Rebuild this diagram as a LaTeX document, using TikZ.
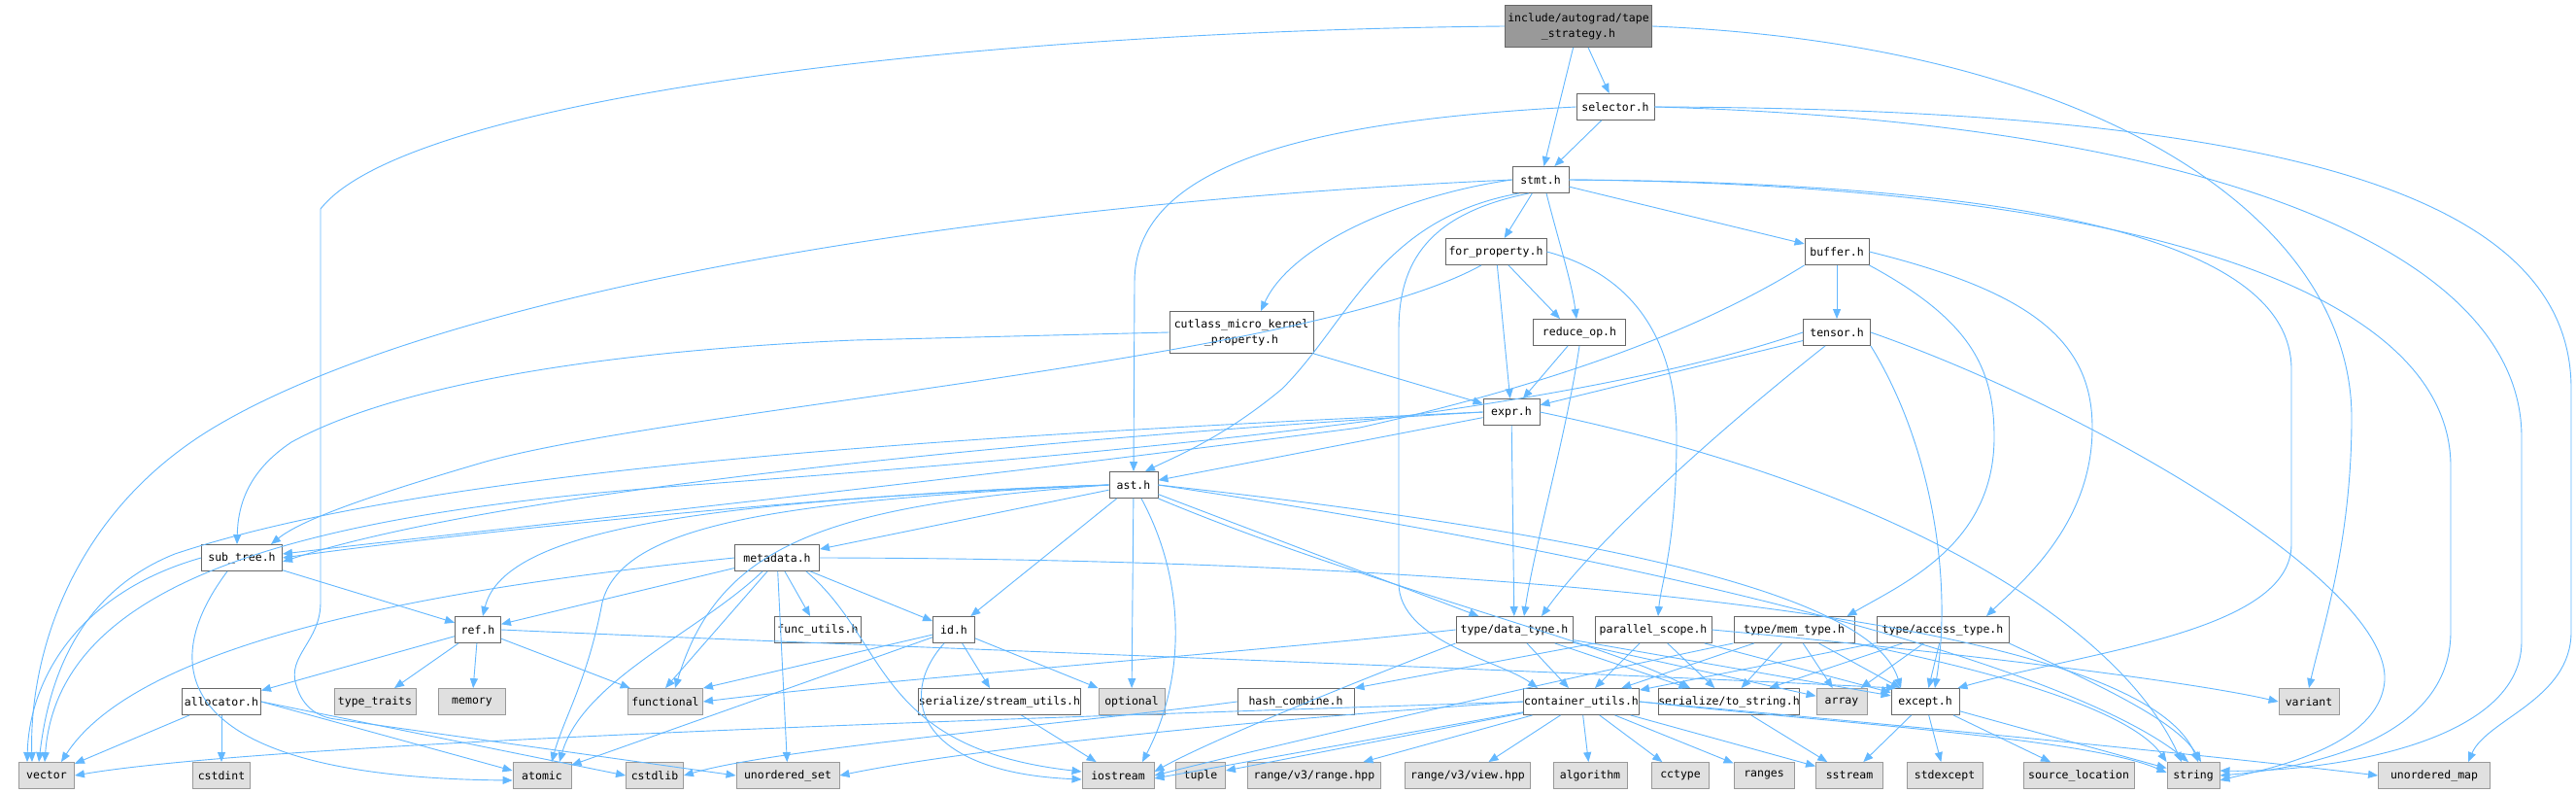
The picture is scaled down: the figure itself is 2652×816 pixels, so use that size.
\documentclass[tikz,border=0pt]{standalone}
\usepackage{fontspec}
\newfontfamily\nf{DejaVu Sans Mono}
\usetikzlibrary{arrows.meta}
\definecolor{edgec}{HTML}{63B8FF}
\definecolor{bord}{HTML}{666666}
\definecolor{xbord}{HTML}{999999}
\definecolor{xfill}{HTML}{E0E0E0}
\definecolor{rootfill}{HTML}{999999}
\begin{document}
\begin{tikzpicture}[x=1pt,y=-1pt,
  nbox/.style={draw=bord,fill=white,line width=0.9pt,minimum height=27pt,inner sep=0pt,font=\nf\fontsize{11.5}{16}\selectfont,text=black},
  xbox/.style={nbox,draw=xbord,fill=xfill},
  rbox/.style={nbox,fill=rootfill,minimum height=43pt,align=center},
  edg/.style={draw=edgec,line width=0.9pt,-{Triangle[length=10pt,width=8pt]}}]
\fill[white] (0,0) rectangle (2652,816);
\useasboundingbox (0,0) rectangle (2652,816);
% nodes
\node[rbox,minimum width=151pt] (root) at (1625,27) {include/autograd/tape\\\_strategy.h};
\node[nbox,minimum width=80pt] (selector) at (1663,110) {selector.h};
\node[nbox,minimum width=58pt] (stmt) at (1586,185) {stmt.h};
\node[nbox,minimum width=104pt] (forprop) at (1540,259) {for\_property.h};
\node[nbox,minimum width=66pt] (buffer) at (1891,259) {buffer.h};
\node[nbox,minimum width=148pt,minimum height=43pt,align=center] (cutlass) at (1278,342) {cutlass\_micro\_kernel\\\_property.h};
\node[nbox,minimum width=95pt] (reduce) at (1626,342) {reduce\_op.h};
\node[nbox,minimum width=69pt] (tensor) at (1891,342) {tensor.h};
\node[nbox,minimum width=58pt] (expr) at (1556,424) {expr.h};
\node[nbox,minimum width=50pt] (ast) at (1167,499) {ast.h};
\node[nbox,minimum width=83pt] (subtree) at (249,574) {sub\_tree.h};
\node[nbox,minimum width=87pt] (metadata) at (800,574) {metadata.h};
\node[nbox,minimum width=47pt] (ref) at (492,648) {ref.h};
\node[nbox,minimum width=89pt] (funcutils) at (842,648) {func\_utils.h};
\node[nbox,minimum width=43pt] (id) at (982,648) {id.h};
\node[nbox,minimum width=120pt] (dtype) at (1559,648) {type/data\_type.h};
\node[nbox,minimum width=120pt] (pscope) at (1702,648) {parallel\_scope.h};
\node[nbox,minimum width=124pt] (memtype) at (1847,648) {type/mem\_type.h};
\node[nbox,minimum width=136pt] (access) at (2000,648) {type/access\_type.h};
\node[nbox,minimum width=81pt] (allocator) at (228,722) {allocator.h};
\node[xbox,minimum width=84pt] (typetraits) at (386,722) {type\_traits};
\node[xbox,minimum width=69pt] (memory) at (486,722) {memory};
\node[xbox,minimum width=77pt] (functional) at (685,722) {functional};
\node[nbox,minimum width=156pt] (streamutils) at (1029,722) {serialize/stream\_utils.h};
\node[xbox,minimum width=68pt] (optional) at (1165,722) {optional};
\node[nbox,minimum width=120pt] (hash) at (1334,722) {hash\_combine.h};
\node[nbox,minimum width=119pt] (cu) at (1628,722) {container\_utils.h};
\node[nbox,minimum width=135pt] (tostring) at (1780,722) {serialize/to\_string.h};
\node[xbox,minimum width=52pt] (array) at (1896,722) {array};
\node[nbox,minimum width=70pt] (except) at (1982,722) {except.h};
\node[xbox,minimum width=62pt] (variant) at (2377,722) {variant};
\node[xbox,minimum width=57pt] (vector) at (48,798) {vector};
\node[xbox,minimum width=59pt] (cstdint) at (228,798) {cstdint};
\node[xbox,minimum width=60pt] (atomic) at (558,798) {atomic};
\node[xbox,minimum width=59pt] (cstdlib) at (674,798) {cstdlib};
\node[xbox,minimum width=106pt] (uset) at (811,798) {unordered\_set};
\node[xbox,minimum width=74pt] (iostream) at (1151,798) {iostream};
\node[xbox,minimum width=51pt] (tuple) at (1236,798) {tuple};
\node[xbox,minimum width=137pt] (rangehpp) at (1353,798) {range/v3/range.hpp};
\node[xbox,minimum width=129pt] (viewhpp) at (1511,798) {range/v3/view.hpp};
\node[xbox,minimum width=76pt] (algorithm) at (1637,798) {algorithm};
\node[xbox,minimum width=59pt] (cctype) at (1730,798) {cctype};
\node[xbox,minimum width=62pt] (ranges) at (1816,798) {ranges};
\node[xbox,minimum width=69pt] (sstream) at (1904,798) {sstream};
\node[xbox,minimum width=78pt] (stdexcept) at (2002,798) {stdexcept};
\node[xbox,minimum width=114pt] (srcloc) at (2140,798) {source\_location};
\node[xbox,minimum width=54pt] (string) at (2258,798) {string};
\node[xbox,minimum width=115pt] (umap) at (2506,798) {unordered\_map};
% root
\draw[edg] (root) -- (stmt);
\draw[edg] (root) -- (selector);
\draw[edg] (root.west) .. controls (1000,32) and (420,100) .. (330,215) -- (330,620) .. controls (330,660) and (295,675) .. (305,705) .. controls (312,730) and (330,738) .. (345,740) -- (uset.west);
\draw[edg] (root.east) .. controls (2150,45) and (2421,220) .. (2421,430) .. controls (2421,560) and (2390,650) .. (variant.north);
% selector
\draw[edg] (selector) -- (stmt);
\draw[edg] (selector.west) .. controls (1330,125) and (1168,175) .. (1168,290) -- (ast.north);
\draw[edg] (selector.east) .. controls (2350,112) and (2647,200) .. (2647,400) -- (2647,650) .. controls (2647,720) and (2560,740) .. ([xshift=35pt]umap.north);
\draw[edg] (selector.east) .. controls (2250,125) and (2596,250) .. (2596,450) -- (2596,660) .. controls (2596,770) and (2380,795) .. ([yshift=5pt]string.east);
% stmt
\draw[edg] (stmt) -- (forprop);
\draw[edg] ([xshift=6pt]stmt.south) .. controls (1605,250) and (1618,290) .. ([xshift=-3pt]reduce.north);
\draw[edg] (stmt.west) .. controls (1450,200) and (1330,250) .. ([xshift=20pt]cutlass.north);
\draw[edg] (stmt) -- (buffer);
\draw[edg] ([xshift=-12pt]stmt.south) .. controls (1470,220) and (1440,270) .. (1440,340) -- (1440,600) .. controls (1440,660) and (1545,680) .. ([xshift=-45pt]cu.north);
\draw[edg] ([xshift=-22pt]stmt.south) .. controls (1420,225) and (1390,330) .. (1320,400) .. controls (1260,450) and (1210,470) .. ([xshift=12pt]ast.north);
\draw[edg] (stmt.west) .. controls (900,215) and (420,320) .. (220,440) .. controls (70,530) and (30,680) .. ([xshift=-15pt]vector.north);
\draw[edg] (stmt.east) .. controls (2100,188) and (2359,250) .. (2359,380) -- (2359,560) .. controls (2359,650) and (2150,670) .. ([xshift=-2pt]except.north east);
\draw[edg] (stmt.east) .. controls (2200,190) and (2523,300) .. (2523,480) -- (2523,650) .. controls (2523,760) and (2380,790) .. (string.east);
% for_property
\draw[edg] ([xshift=13pt]forprop.south) -- ([xshift=-20pt]reduce.north);
\draw[edg] (forprop) -- (expr);
\draw[edg] (forprop.east) .. controls (1690,285) and (1726,360) .. (1726,450) .. controls (1726,560) and (1710,600) .. ([xshift=5pt]pscope.north);
\draw[edg] ([xshift=-15pt]forprop.south) .. controls (1350,370) and (700,420) .. (500,475) .. controls (380,510) and (310,535) .. ([xshift=30pt]subtree.north);
% cutlass
\draw[edg] (cutlass) -- (expr);
\draw[edg] (cutlass.west) -- (880,350) .. controls (600,362) and (400,400) .. (300,455) .. controls (255,485) and (245,520) .. ([xshift=-5pt]subtree.north);
% reduce_op
\draw[edg] (reduce) -- (expr);
\draw[edg] (reduce.south) .. controls (1612,450) and (1580,560) .. ([xshift=10pt]dtype.north);
% buffer
\draw[edg] (buffer) -- (tensor);
\draw[edg] (buffer.south east) .. controls (2030,330) and (2053,380) .. (2053,450) .. controls (2053,560) and (1960,600) .. ([xshift=-8pt]memtype.north east);
\draw[edg] (buffer.east) .. controls (2090,300) and (2154,350) .. (2154,440) .. controls (2154,540) and (2080,600) .. ([xshift=45pt]access.north);
\draw[edg] (buffer.south west) .. controls (1750,340) and (1600,395) .. (1400,440) .. controls (900,505) and (500,545) .. ([yshift=4pt]subtree.east);
% tensor
\draw[edg] (tensor) -- (expr);
\draw[edg] ([xshift=-12pt]tensor.south) .. controls (1760,450) and (1640,560) .. ([xshift=28pt]dtype.north);
\draw[edg] (tensor.west) .. controls (1600,430) and (1100,470) .. (700,500) .. controls (300,530) and (60,600) .. ([xshift=-2pt]vector.north);
\draw[edg] (tensor.south east) .. controls (1990,460) and (2010,600) .. ([xshift=10pt]except.north);
\draw[edg] (tensor.east) .. controls (2150,420) and (2460,600) .. (2455,700) .. controls (2450,770) and (2330,792) .. ([yshift=-5pt]string.east);
% expr
\draw[edg] (expr) -- (ast);
\draw[edg] (expr) -- (dtype);
\draw[edg] (expr.east) .. controls (1950,500) and (2180,640) .. ([xshift=-12pt]string.north);
\draw[edg] (expr.west) .. controls (1000,448) and (450,480) .. (180,570) .. controls (80,610) and (50,700) .. ([xshift=-8pt]vector.north);
\draw[edg] (expr.west) .. controls (1000,455) and (500,510) .. ([yshift=-4pt]subtree.east);
% ast
\draw[edg] (ast.west) .. controls (900,505) and (500,545) .. (subtree.east);
\draw[edg] (ast) -- (metadata);
\draw[edg] (ast.west) .. controls (750,515) and (520,540) .. ([xshift=5pt]ref.north);
\draw[edg] (ast) -- (id);
\draw[edg] (ast) -- (optional);
\draw[edg] ([xshift=8pt]ast.south) .. controls (1222,600) and (1220,700) .. ([xshift=25pt]iostream.north);
\draw[edg] (ast) -- (dtype);
\draw[edg] (ast.south east) .. controls (1400,600) and (1650,660) .. ([xshift=-40pt]tostring.north);
\draw[edg] (ast.east) .. controls (1700,555) and (1930,620) .. ([xshift=-25pt]except.north);
\draw[edg] (ast.east) .. controls (1800,590) and (2150,700) .. ([xshift=-5pt]string.north);
\draw[edg] (ast.west) .. controls (800,515) and (640,540) .. (620,620) .. controls (605,700) and (580,740) .. ([xshift=10pt]atomic.north);
\draw[edg] (ast.west) .. controls (850,520) and (740,560) .. ([xshift=10pt]functional.north);
% metadata
\draw[edg] (metadata.east) .. controls (1500,575) and (2200,630) .. ([xshift=5pt]string.north);
\draw[edg] (metadata.west) .. controls (500,600) and (150,650) .. ([xshift=15pt]vector.north);
\draw[edg] (metadata) -- (ref);
\draw[edg] ([xshift=-15pt]metadata.south) .. controls (720,650) and (600,700) .. ([xshift=18pt]atomic.north);
\draw[edg] ([xshift=-10pt]metadata.south) -- (functional.north);
\draw[edg] (metadata) -- (uset);
\draw[edg] (metadata) -- (funcutils);
\draw[edg] (metadata) -- (id);
\draw[edg] ([xshift=30pt]metadata.south) .. controls (915,660) and (900,770) .. ([yshift=4pt]iostream.west);
% sub_tree
\draw[edg] (subtree) -- (ref);
\draw[edg] (subtree.west) .. controls (80,610) and (30,700) .. ([xshift=-20pt]vector.north);
\draw[edg] ([xshift=-15pt]subtree.south) .. controls (150,700) and (200,800) .. ([yshift=-5pt]atomic.west);
% ref
\draw[edg] (ref) -- (allocator);
\draw[edg] (ref) -- (typetraits);
\draw[edg] (ref) -- (memory);
\draw[edg] (ref) -- (functional);
\draw[edg] (ref.east) .. controls (900,665) and (1600,690) .. ([xshift=-30pt]except.north);
% allocator
\draw[edg] (allocator) -- (vector);
\draw[edg] (allocator) -- (cstdint);
\draw[edg] (allocator.east) -- ([yshift=5pt]atomic.west);
\draw[edg] (allocator.east) -- (cstdlib.west);
% id
\draw[edg] (id) -- (functional.north east);
\draw[edg] (id) -- (atomic);
\draw[edg] ([xshift=-10pt]id.south) .. controls (920,720) and (950,795) .. ([yshift=-4pt]iostream.west);
\draw[edg] (id) -- ([xshift=-10pt]streamutils.north);
\draw[edg] (id) -- (optional);
% stream_utils, hash_combine
\draw[edg] (streamutils) -- (iostream);
\draw[edg] (hash.west) .. controls (1100,745) and (800,770) .. (cstdlib.east);
% data_type
\draw[edg] (dtype.west) .. controls (1300,670) and (900,700) .. (functional.east);
\draw[edg] (dtype) -- (cu);
\draw[edg] (dtype) -- (tostring);
\draw[edg] (dtype) -- (except);
\draw[edg] (dtype) -- (array);
\draw[edg] (dtype.south west) .. controls (1400,700) and (1250,760) .. ([yshift=4pt]iostream.east);
% parallel_scope
\draw[edg] (pscope.south west) -- (hash.north east);
\draw[edg] (pscope) -- (cu);
\draw[edg] (pscope) -- (tostring);
\draw[edg] (pscope.east) .. controls (2000,670) and (2250,700) .. (variant.west);
\draw[edg] (pscope) -- (except);
% mem_type
\draw[edg] (memtype) -- (cu);
\draw[edg] (memtype) -- (tostring);
\draw[edg] (memtype) -- (array);
\draw[edg] (memtype) -- (except);
\draw[edg] (memtype.south east) .. controls (2100,700) and (2200,740) .. (string.north west);
\draw[edg] (memtype.south west) .. controls (1600,700) and (1300,770) .. (iostream.east);
% access_type
\draw[edg] (access) -- (cu);
\draw[edg] (access) -- (tostring);
\draw[edg] (access) -- (array);
\draw[edg] (access) -- (except);
\draw[edg] (access.south east) .. controls (2150,700) and (2240,740) .. ([xshift=8pt]string.north);
% container_utils
\draw[edg] (cu) -- ([yshift=-3pt]iostream.east);
\draw[edg] (cu) -- (tuple);
\draw[edg] (cu) -- (rangehpp);
\draw[edg] (cu) -- (viewhpp);
\draw[edg] (cu) -- (algorithm);
\draw[edg] (cu) -- (cctype);
\draw[edg] (cu) -- (ranges);
\draw[edg] (cu) -- (sstream);
\draw[edg] (cu.east) .. controls (1900,745) and (2150,760) .. ([yshift=3pt]string.west);
\draw[edg] (cu.east) .. controls (2000,750) and (2300,780) .. (umap.west);
\draw[edg] (cu.west) .. controls (1300,740) and (1000,770) .. (uset.east);
\draw[edg] (cu.west) .. controls (1200,735) and (300,760) .. (vector.east);
% to_string, except
\draw[edg] (tostring) -- (sstream);
\draw[edg] (except) -- (sstream);
\draw[edg] (except) -- (stdexcept);
\draw[edg] (except) -- (srcloc);
\draw[edg] (except) -- (string);
\end{tikzpicture}
\end{document}
